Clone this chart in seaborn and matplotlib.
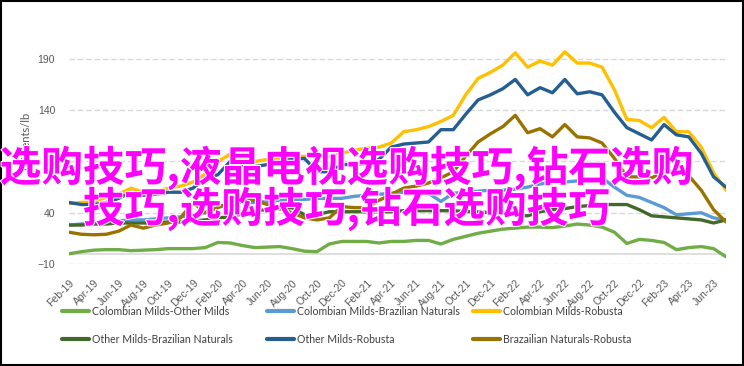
import matplotlib
matplotlib.use("Agg")
import matplotlib.pyplot as plt
import matplotlib.patheffects as pe
import seaborn as sns
import pandas as pd

# ---------------- data ----------------
tick_labels = ["Feb-19", "Apr-19", "Jun-19", "Aug-19", "Oct-19", "Dec-19",
               "Feb-20", "Apr-20", "Jun-20", "Aug-20", "Oct-20", "Dec-20",
               "Feb-21", "Apr-21", "Jun-21", "Aug-21", "Oct-21", "Dec-21",
               "Feb-22", "Apr-22", "Jun-22", "Aug-22", "Oct-22", "Dec-22",
               "Feb-23", "Apr-23", "Jun-23"]

cm_om = [0, 2, 3.5, 4, 4, 3, 3.5, 4, 5, 5, 5, 6, 11, 10.5, 8, 6, 6.5, 7, 5, 2.5,
         2, 9.5, 12, 12, 12, 10.5, 12, 12, 13, 13, 9.5, 14, 17, 20, 22, 24, 25, 26,
         26, 25.5, 27, 29, 28, 26, 21, 10, 14, 13, 11, 4, 6, 7, 5, -3]
cm_bn = [28, 29, 30, 31, 32, 33, 33, 34, 35, 36, 38, 40, 45, 50, 50, 50, 51, 52,
         53, 53, 54, 54, 54, 56, 57, 58, 59, 60, 60, 59, 51, 59, 60, 61, 62, 62,
         63, 65, 68, 70, 70, 71, 72, 74, 65, 57, 55, 50, 45, 38, 39, 40, 35, 33]
cm_r = [49, 50, 51, 55, 58, 64, 60, 61, 64, 66, 70, 78, 90, 97, 93, 90, 92, 93,
        94, 95, 95, 95, 98, 101, 103, 104, 108, 119, 121, 124, 129, 135, 155, 171,
        177, 184, 196, 182, 188, 184, 197, 186, 186, 182, 160, 131, 130, 123, 133,
        119, 119, 104, 79, 62]
om_bn = [28, 28, 29, 29, 30, 30, 30, 30, 31, 31, 32, 33, 35, 36, 39, 42, 43, 44,
         45, 38, 38, 41, 41, 41, 41, 41, 41, 42, 42, 42, 42, 42, 41, 41, 40, 40,
         38, 37, 41, 43, 44, 46, 47, 48, 48, 48, 43, 37, 36, 35, 34, 33, 30, 33]
om_r = [50, 48, 48, 50, 54, 60, 57, 58, 60, 60, 64, 74, 77, 90, 86, 85, 87, 90,
        92, 93, 80, 80, 87, 87, 88, 92, 104, 107, 108, 109, 121, 121, 136, 150,
        155, 161, 170, 155, 162, 157, 170, 156, 158, 155, 138, 123, 117, 111, 126,
        116, 114, 98, 75, 65]
bn_r = [21, 19, 18.5, 19, 22, 28, 25, 28, 30, 35, 50, 40, 45, 50, 53, 52, 48, 44,
        40, 35, 33, 35, 46, 45, 45, 52, 58, 64, 66, 69, 74, 80, 95, 109, 117, 124,
        135, 118, 122, 114, 126, 114, 113, 108, 93, 75, 75, 74, 80, 80, 76, 62, 43, 31]

series_names = ["Colombian Milds-Other Milds", "Colombian Milds-Brazilian Naturals",
                "Colombian Milds-Robusta", "Other Milds-Brazilian Naturals",
                "Other Milds-Robusta", "Brazailian Naturals-Robusta"]
series_values = [cm_om, cm_bn, cm_r, om_bn, om_r, bn_r]
colors = ["#70AD47", "#5B9BD5", "#FFC000", "#43682B", "#255E91", "#997300"]

rows = []
for name, vals in zip(series_names, series_values):
    for i, v in enumerate(vals):
        rows.append({"month": i, "value": v, "series": name})
df = pd.DataFrame(rows)

# ---------------- plot ----------------
sns.set_theme(style="white")
plt.rcParams["font.family"] = ["Liberation Sans", "DejaVu Sans"]

W, H = 744, 366
fig = plt.figure(figsize=(W / 100, H / 100), dpi=100)
ax = fig.add_axes([69 / W, 1 - 264 / H, (726 - 69) / W, (264 - 48.7) / H])

ax.set_ylim(-10, 200)
ax.set_xlim(0, len(cm_om) - 1)
ax.set_yticks([-10, 40, 90, 140, 190])
for yv in [-10, 40, 90, 140, 190]:
    ax.axhline(yv, color="#D9D9D9", lw=1, ls=(0, (4, 2)), zorder=0)
ax.axhline(0, color="#D9D9D9", lw=1.2, zorder=0)

palette = dict(zip(series_names, colors))
sns.lineplot(data=df, x="month", y="value", hue="series", palette=palette,
             hue_order=series_names, estimator=None, sort=False, lw=2.4,
             legend=False, ax=ax)

for s in ax.spines.values():
    s.set_visible(False)
ax.set_xlabel("")
ax.set_ylabel("")
ax.set_xticks(list(range(0, len(cm_om) - 1, 2)))
ax.set_xticklabels(tick_labels, rotation=45, ha="right", rotation_mode="anchor",
                   fontsize=7.5, color="#595959")
ax.tick_params(axis="x", length=0, pad=10)
ax.tick_params(axis="y", length=0, pad=10, labelsize=7.5, labelcolor="#595959")

fig.text(27 / W, 1 - 113 / H, "US cents/lb", rotation=90, va="top", ha="center",
         fontsize=8, color="#595959", family=["Liberation Sans Narrow", "Lato", "DejaVu Sans"])

# legends (three columns of two)
handles = {n: plt.Line2D([], [], color=c, lw=3) for n, c in zip(series_names, colors)}
col_x = [62, 267, 473]
for k in range(3):
    names = [series_names[k], series_names[k + 3]]
    leg = fig.legend([handles[n] for n in names], names, loc="upper left",
                     bbox_to_anchor=(col_x[k] / W, 1 - 306 / H), frameon=False,
                     borderpad=0, borderaxespad=0, handlelength=2.6,
                     handletextpad=0.25, labelspacing=1.6,
                     prop={"family": ["Liberation Sans Narrow", "Lato", "DejaVu Sans"], "size": 7.6})
    for t in leg.get_texts():
        t.set_color("#404040")

# overlay text
for txt, yc in [("选购技巧,液晶电视选购技巧,钻石选购", 168), ("技巧,选购技巧,钻石选购技巧", 209)]:
    fig.text(346 / W, 1 - yc / H, txt, ha="center", va="center", fontsize=30,
             fontweight="bold", color="#FF00FF",
             family=["Noto Sans CJK SC", "DejaVu Sans"], zorder=10,
             path_effects=[pe.withStroke(linewidth=1.5, foreground="white")])

# frame
fig.patches.append(plt.Rectangle((0.001, 0.002), 0.997, 0.995, transform=fig.transFigure,
                                 fill=False, edgecolor="black", lw=1.5))

fig.savefig("out.png", dpi=100)
